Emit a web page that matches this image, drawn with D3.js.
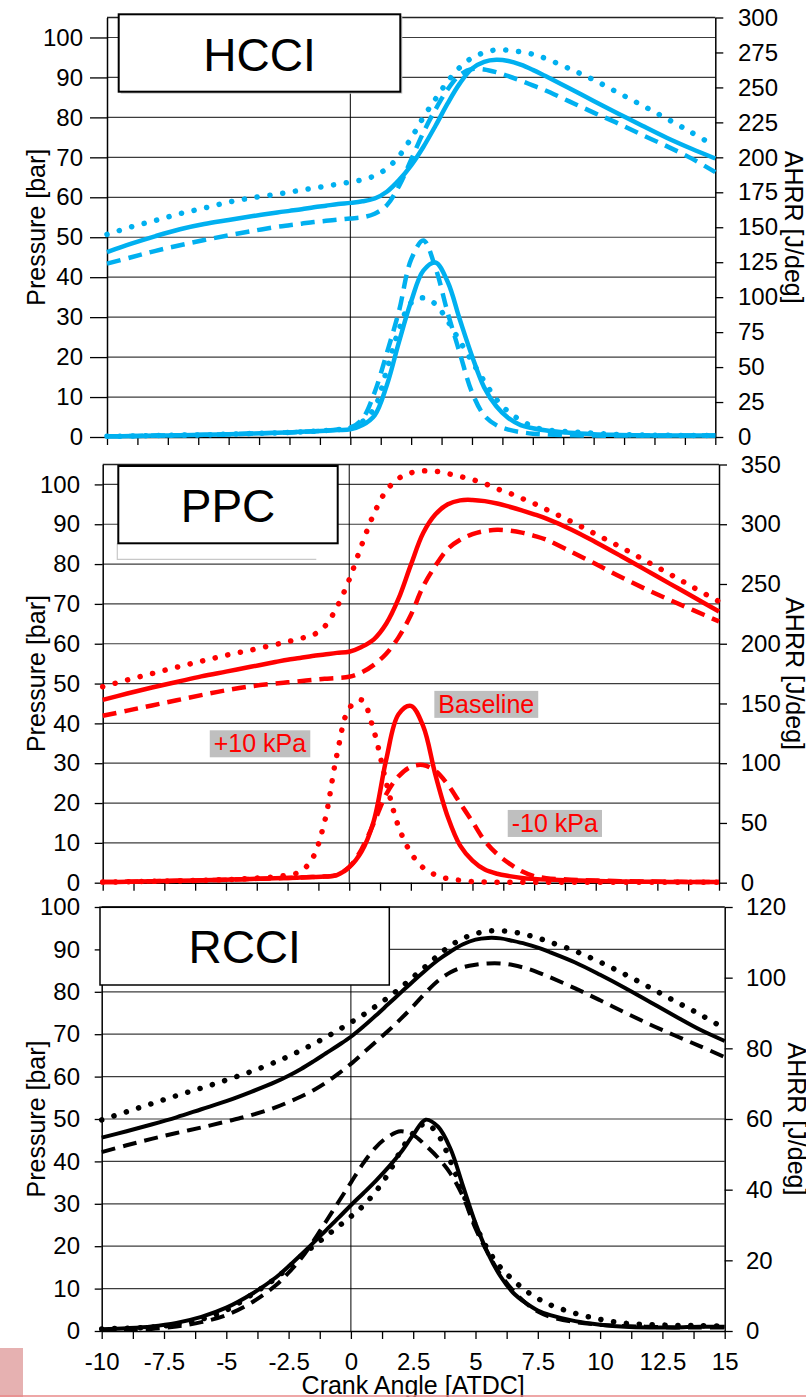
<!DOCTYPE html>
<html>
<head>
<meta charset="utf-8">
<script src="https://cdn.jsdelivr.net/npm/d3@7"></script>
<style>
  body { margin: 0; background: #fff; }
  svg { display: block; font-family: "Liberation Sans", Arial, sans-serif; }
</style>
</head>
<body>
<div id="chart"></div>
<script>
// crank angle grid shared by every curve [deg ATDC]
const crank = [-10, -9, -8, -7, -6, -5, -4, -3, -2.5, -2, -1.5, -1, -0.5, 0, 0.5, 1, 1.5, 2, 2.5,
  3, 3.5, 4, 4.5, 5, 5.5, 6, 6.5, 7, 7.5, 8, 9, 10, 11, 12, 13, 14, 15];

// HCCI: pressure [bar], AHRR [J/deg]
const hcciPressureBase  = [46.3, 48.4, 50.3, 52.0, 53.3, 54.3, 55.3, 56.2, 56.6, 57.0, 57.5, 57.9, 58.3, 58.6, 59.0, 59.7, 61.4, 64.3, 68.0, 72.6, 77.9, 83.5, 88.5, 92.2, 93.9, 94.4, 94.1, 93.2, 91.9, 90.4, 87.3, 84.1, 81.0, 77.9, 74.9, 72.2, 69.7];
const hcciPressureMinus = [43.4, 45.0, 46.6, 48.0, 49.3, 50.5, 51.6, 52.6, 53.0, 53.4, 53.8, 54.1, 54.4, 54.7, 55.0, 55.9, 58.0, 62.8, 69.4, 76.2, 82.0, 87.0, 90.6, 92.1, 92.0, 91.3, 90.3, 89.2, 88.0, 86.8, 84.0, 81.2, 78.5, 75.6, 72.8, 69.8, 66.3];
const hcciPressurePlus  = [50.7, 52.6, 54.2, 55.9, 57.3, 58.8, 59.9, 60.8, 61.3, 61.8, 62.3, 62.8, 63.3, 63.8, 64.4, 65.4, 67.2, 70.3, 74.8, 80.0, 84.6, 89.0, 92.5, 94.9, 96.2, 96.9, 96.8, 96.4, 95.8, 94.8, 92.2, 89.4, 86.2, 83.0, 79.7, 76.3, 72.8];
const hcciAhrrBase  = [0.5, 0.7, 1.0, 1.3, 1.6, 2.0, 2.5, 3.0, 3.3, 3.7, 4.1, 4.5, 5.0, 5.5, 8.5, 15.5, 37.0, 68.0, 97.0, 119.0, 124.8, 111.0, 84.0, 58.0, 35.5, 22.0, 13.5, 8.5, 6.3, 4.8, 3.0, 2.0, 1.5, 1.2, 1.0, 1.0, 1.0];
const hcciAhrrMinus = [0.5, 0.7, 1.0, 1.3, 1.6, 2.0, 2.5, 3.0, 3.3, 3.7, 4.1, 4.6, 5.3, 6.5, 13.0, 32.0, 60.0, 90.0, 127.0, 140.5, 121.0, 89.0, 60.0, 32.0, 15.5, 8.5, 5.3, 3.5, 2.4, 1.8, 1.3, 1.0, 1.0, 1.0, 1.0, 1.0, 1.0];
const hcciAhrrPlus  = [0.5, 0.7, 1.0, 1.3, 1.6, 2.0, 2.5, 3.0, 3.3, 3.7, 4.1, 4.6, 5.3, 6.5, 11.0, 21.0, 48.0, 77.0, 96.0, 99.5, 95.0, 83.0, 68.5, 54.0, 40.0, 27.0, 18.0, 12.0, 7.5, 5.2, 3.8, 2.8, 1.8, 1.4, 1.2, 1.1, 1.1];

// PPC
const ppcPressureBase  = [45.9, 47.5, 49.0, 50.4, 51.8, 53.0, 54.2, 55.4, 56.0, 56.4, 56.9, 57.3, 57.7, 58.0, 59.2, 61.1, 65.0, 71.3, 79.8, 87.8, 92.5, 95.0, 96.0, 96.1, 95.8, 95.2, 94.4, 93.5, 92.5, 91.4, 88.7, 85.5, 82.1, 78.6, 75.1, 71.6, 68.1];
const ppcPressureMinus = [41.9, 43.2, 44.5, 45.8, 47.1, 48.3, 49.3, 50.0, 50.3, 50.6, 50.9, 51.2, 51.4, 51.7, 52.8, 54.7, 57.5, 61.6, 67.2, 74.4, 79.6, 83.8, 86.1, 87.5, 88.3, 88.6, 88.4, 87.9, 87.1, 86.1, 83.1, 80.0, 76.8, 73.8, 71.0, 68.3, 65.6];
const ppcPressurePlus  = [49.2, 50.9, 52.5, 54.1, 55.6, 57.1, 58.4, 59.8, 60.5, 61.3, 62.1, 64.3, 69.2, 76.1, 84.7, 92.6, 98.4, 101.5, 102.9, 103.4, 103.3, 102.7, 102.0, 101.2, 100.2, 98.9, 97.8, 96.5, 95.2, 93.7, 90.7, 87.5, 84.3, 80.9, 77.5, 74.0, 70.6];
const ppcAhrrBase  = [0.5, 0.8, 1.2, 1.6, 2.0, 2.5, 3.1, 3.7, 4.0, 4.3, 4.7, 5.1, 6.4, 13.0, 26.0, 52.0, 103.0, 141.0, 148.0, 131.0, 90.0, 55.0, 31.0, 18.5, 11.0, 7.5, 5.5, 4.0, 3.2, 2.6, 2.0, 1.5, 1.0, 0.8, 0.6, 0.5, 0.5];
const ppcAhrrMinus = [0.5, 0.8, 1.2, 1.6, 2.0, 2.5, 3.1, 3.7, 4.0, 4.3, 4.7, 5.1, 6.4, 13.0, 28.0, 50.0, 74.0, 89.0, 97.0, 98.5, 93.5, 82.0, 66.5, 51.0, 35.0, 24.0, 16.0, 9.5, 5.5, 3.8, 2.5, 1.8, 1.3, 1.0, 0.8, 0.6, 0.5];
const ppcAhrrPlus  = [0.5, 0.8, 1.1, 1.5, 2.0, 2.6, 3.5, 5.0, 6.5, 9.0, 20.0, 51.0, 107.0, 146.0, 153.0, 127.0, 84.0, 47.0, 25.0, 12.5, 6.5, 3.3, 2.0, 1.0, 0.6, 0.4, 0.4, 0.4, 0.3, 0.3, 0.3, 0.3, 0.3, 0.3, 0.3, 0.3, 0.3];

// RCCI
const rcciPressureBase  = [45.6, 47.1, 48.7, 50.4, 52.3, 54.2, 56.4, 58.8, 60.2, 61.8, 63.6, 65.5, 67.4, 69.4, 71.8, 74.4, 77.1, 79.8, 82.5, 85.1, 87.5, 89.5, 91.2, 92.3, 92.7, 92.6, 92.0, 91.3, 90.4, 89.3, 86.9, 84.0, 80.9, 77.6, 74.3, 71.1, 68.4];
const rcciPressureMinus = [42.2, 43.8, 45.3, 46.7, 48.0, 49.4, 50.9, 52.8, 54.0, 55.3, 56.8, 58.6, 60.7, 63.0, 65.6, 68.2, 70.8, 73.6, 76.6, 79.8, 82.6, 84.6, 85.8, 86.4, 86.7, 86.7, 86.3, 85.6, 84.6, 83.4, 80.8, 78.0, 75.1, 72.3, 69.7, 67.2, 64.6];
const rcciPressurePlus  = [49.8, 51.7, 53.6, 55.5, 57.3, 59.2, 61.2, 63.5, 64.8, 66.2, 67.7, 69.3, 71.0, 72.8, 74.6, 76.6, 78.7, 81.0, 83.5, 86.0, 88.6, 90.9, 92.6, 93.7, 94.3, 94.4, 94.1, 93.5, 92.7, 91.7, 89.6, 87.0, 84.1, 81.0, 77.8, 74.7, 71.3];
const rcciAhrrBase  = [0.5, 0.8, 1.3, 2.3, 4.0, 6.6, 10.4, 15.2, 18.3, 21.6, 25.0, 28.5, 32.0, 35.6, 39.0, 42.5, 46.3, 50.5, 55.5, 59.8, 57.8, 51.5, 41.0, 30.5, 22.0, 15.5, 10.9, 8.0, 5.8, 4.5, 2.8, 1.8, 1.2, 1.0, 1.0, 1.2, 1.2];
const rcciAhrrMinus = [0.3, 0.4, 0.6, 1.3, 2.5, 4.5, 8.0, 13.0, 16.5, 20.5, 25.5, 31.0, 36.5, 42.0, 47.5, 52.0, 55.0, 56.5, 55.5, 52.5, 49.0, 44.5, 38.0, 29.0, 22.0, 16.0, 11.5, 8.0, 5.5, 4.0, 2.5, 1.8, 1.4, 1.2, 1.0, 1.0, 1.0];
const rcciAhrrPlus  = [0.6, 0.8, 1.1, 1.9, 3.3, 5.9, 10.2, 15.0, 18.0, 21.2, 24.0, 26.8, 29.6, 32.4, 35.5, 39.5, 44.5, 51.0, 56.0, 58.7, 55.5, 48.0, 39.0, 30.0, 23.0, 18.0, 14.5, 11.5, 9.2, 7.4, 5.0, 3.3, 2.2, 1.8, 1.6, 1.5, 1.4];

// ticks and labels
const pressureTicks = [0, 10, 20, 30, 40, 50, 60, 70, 80, 90, 100];
const crankMinorTicks = d3.range(-10, 15.01, 1.25);
const crankLabels = [-10, -7.5, -5, -2.5, 0, 2.5, 5, 7.5, 10, 12.5, 15];
const ppcNotes = [
  { text: "+10 kPa", ca: -3.62, p: 35.0 },
  { text: "Baseline", ca: 5.56, p: 44.9 },
  { text: "-10 kPa", ca: 8.34, p: 15.0 }
];

const W = 806, H = 1397;
const svg = d3.select("#chart").append("svg").attr("width", W).attr("height", H);

// solid = baseline, dashed = -10 kPa, dotted = +10 kPa
const lineStyles = [
  { dash: null, width: 4.5, cap: "butt" },
  { dash: "14,8", width: 4.5, cap: "butt" },
  { dash: "0.1,12.8", width: 5.5, cap: "round" }
];

const panels = [
  { title: "HCCI", color: "#00b0f0", left: 107, right: 715.3, top: 17.5, bottom: 437, pMax: 105,
    aMax: 300, aStep: 25, leftTick: 17, leftPad: 7, rightPad: 14.7,
    pressure: [hcciPressureBase, hcciPressureMinus, hcciPressurePlus],
    ahrr: [hcciAhrrBase, hcciAhrrMinus, hcciAhrrPlus],
    box: [118.7, 14.3, 281.6, 77.4], titleY: 71, ahrrX: 785, lw: 4.5 },
  { title: "PPC", color: "#ff0000", left: 102.7, right: 719, top: 464.5, bottom: 882.7, pMax: 105,
    aMax: 350, aStep: 50, leftTick: 8, leftPad: 14.7, rightPad: 13.7,
    pressure: [ppcPressureBase, ppcPressureMinus, ppcPressurePlus],
    ahrr: [ppcAhrrBase, ppcAhrrMinus, ppcAhrrPlus],
    box: [118.3, 466, 219.4, 77.3], titleY: 521.7, ahrrX: 786, lw: 4.5 },
  { title: "RCCI", color: "#000000", left: 101.7, right: 724.7, top: 907, bottom: 1331, pMax: 100,
    aMax: 120, aStep: 20, leftTick: 7, leftPad: 14.7, rightPad: 13.3,
    pressure: [rcciPressureBase, rcciPressureMinus, rcciPressurePlus],
    ahrr: [rcciAhrrBase, rcciAhrrMinus, rcciAhrrPlus],
    box: [100, 907.3, 289.3, 77.7], titleY: 963.3, ahrrX: 788, lw: 4 }
];

function styleAxis(sel) {
  sel.attr("font-size", null).attr("font-family", null);
  sel.selectAll("text").attr("font-size", 24).attr("fill", "#000");
  sel.selectAll("line").attr("stroke", "#000").attr("stroke-width", 1.3);
  sel.select(".domain").attr("stroke", "#000").attr("stroke-width", 1.5);
}

panels.forEach((p, pi) => {
  const x = d3.scaleLinear().domain([-10, 15]).range([p.left, p.right]);
  const yP = d3.scaleLinear().domain([0, p.pMax]).range([p.bottom, p.top]);
  const yA = d3.scaleLinear().domain([0, p.aMax]).range([p.bottom, p.top]);
  const g = svg.append("g");

  // horizontal grid
  g.append("g").selectAll("line").data(pressureTicks.filter(d => d > 0)).join("line")
    .attr("x1", p.left).attr("x2", p.right)
    .attr("y1", d => yP(d)).attr("y2", d => yP(d))
    .attr("stroke", "#3c3c3c").attr("stroke-width", 1.2);
  g.append("line").attr("x1", p.left).attr("x2", p.right)
    .attr("y1", p.top).attr("y2", p.top).attr("stroke", "#222").attr("stroke-width", 1.3);
  g.append("line").attr("x1", x(0)).attr("x2", x(0))
    .attr("y1", p.top).attr("y2", p.bottom).attr("stroke", "#000").attr("stroke-width", 1);

  // axes
  g.append("g").attr("transform", `translate(${p.left},0)`)
    .call(d3.axisLeft(yP).tickValues(pressureTicks).tickSize(p.leftTick).tickSizeOuter(0)
      .tickPadding(p.leftPad).tickFormat(d3.format("d")))
    .call(styleAxis);
  g.append("g").attr("transform", `translate(${p.right},0)`)
    .call(d3.axisRight(yA).tickValues(d3.range(0, p.aMax + 1, p.aStep)).tickSize(8).tickSizeOuter(0)
      .tickPadding(p.rightPad).tickFormat(d3.format("d")))
    .call(styleAxis);
  g.append("g").attr("transform", `translate(0,${p.bottom})`)
    .call(d3.axisBottom(x).tickValues(crankMinorTicks).tickSize(8).tickSizeOuter(0).tickFormat(""))
    .call(styleAxis);
  if (pi === panels.length - 1) {
    g.append("g").attr("transform", `translate(0,${p.bottom})`)
      .call(d3.axisBottom(x).tickValues(crankLabels).tickSize(0).tickPadding(21.5).tickFormat(d => String(d)))
      .call(styleAxis)
      .call(s => s.select(".domain").remove());
  }

  // curves
  const curves = [];
  p.pressure.forEach((vals, i) => curves.push({ vals, y: yP, style: lineStyles[i] }));
  p.ahrr.forEach((vals, i) => curves.push({ vals, y: yA, style: lineStyles[i] }));
  curves.forEach(c => {
    const line = d3.line().curve(d3.curveCatmullRom.alpha(0.5))
      .x((d, i) => x(crank[i])).y(d => c.y(d));
    g.append("path").attr("d", line(c.vals))
      .attr("fill", "none").attr("stroke", p.color)
      .attr("stroke-width", c.style.cap === "round" ? c.style.width : p.lw)
      .attr("stroke-dasharray", c.style.dash)
      .attr("stroke-linecap", c.style.cap)
      .attr("stroke-linejoin", "round");
  });

  // axis titles
  const cy = (p.top + p.bottom) / 2;
  g.append("text").attr("transform", `translate(45,${cy}) rotate(-90)`)
    .attr("text-anchor", "middle").attr("font-size", 25).text("Pressure [bar]");
  g.append("text").attr("transform", `translate(${p.ahrrX},${cy}) rotate(90)`)
    .attr("text-anchor", "middle").attr("font-size", 25).text("AHRR [J/deg]");

  // title box
  const [bx, by, bw, bh] = p.box;
  if (pi === 0) {
    g.append("rect").attr("x", bx + 2).attr("y", by + 2).attr("width", bw).attr("height", bh)
      .attr("fill", "#c8c8c8");
  }
  if (pi === 1) {
    g.append("path").attr("d", `M${bx - 1},${by + bh} V${by + bh + 16} H${bx + 198}`)
      .attr("fill", "none").attr("stroke", "#c8c8c8").attr("stroke-width", 1.2);
  }
  g.append("rect").attr("x", bx).attr("y", by).attr("width", bw).attr("height", bh)
    .attr("fill", "#fff").attr("stroke", "#000").attr("stroke-width", pi === 2 ? 1.5 : 2);
  g.append("text").attr("x", bx + bw / 2).attr("y", p.titleY)
    .attr("text-anchor", "middle").attr("font-size", 46).text(p.title);

  // PPC annotations
  if (pi === 1) {
    ppcNotes.forEach(n => {
      const t = g.append("text").attr("x", x(n.ca)).attr("y", yP(n.p))
        .attr("text-anchor", "middle").attr("dominant-baseline", "central")
        .attr("font-size", 25).attr("fill", "#ff0000").text(n.text);
      const b = t.node().getBBox();
      g.insert("rect", () => t.node())
        .attr("x", b.x - 4).attr("y", b.y + 1).attr("width", b.width + 8).attr("height", b.height - 1)
        .attr("fill", "#bfbfbf");
    });
  }

  if (pi === panels.length - 1) {
    svg.append("text").attr("x", (p.left + p.right) / 2).attr("y", 1394)
      .attr("text-anchor", "middle").attr("font-size", 25).text("Crank Angle [ATDC]");
  }
});

// slide remnants at the bottom edge
svg.append("rect").attr("x", 0).attr("y", 1348).attr("width", 23).attr("height", H - 1348).attr("fill", "#e6b1b1");
svg.append("line").attr("x1", 0).attr("x2", W).attr("y1", 1396).attr("y2", 1396)
  .attr("stroke", "#e88a8a").attr("stroke-width", 1.5);
</script>
</body>
</html>
